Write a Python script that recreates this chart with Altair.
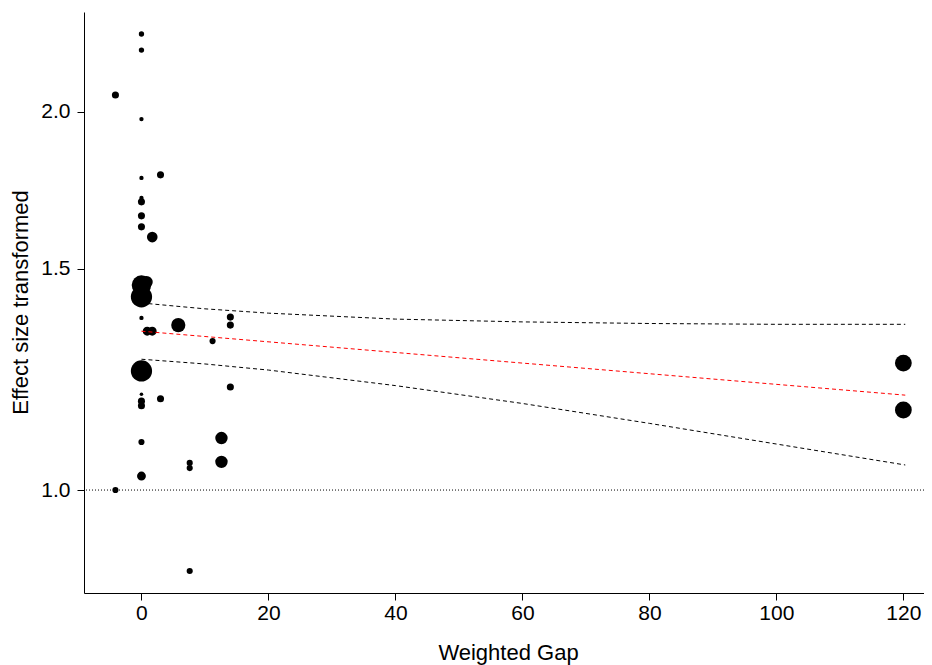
import altair as alt
import pandas as pd

# study points: weighted gap (x), transformed effect size (y), study weight
gap = [0, 0, -4.1, 0, 0, 3.0, 0, 0, 0, 0, 1.7, 0, 0.8, 0, 0, 0.9, 1.7, 5.8,
       11.2, 14.0, 14.0, 0, 14.0, 0, 0, 0, 3.0, 0, 12.6, 12.6, 7.6, 7.6, 0,
       -4.1, 7.6, 120.0, 120.0]
effect = [2.307, 2.240, 2.063, 1.974, 1.772, 1.782, 1.708, 1.696, 1.653, 1.620,
          1.590, 1.456, 1.464, 1.425, 1.371, 1.338, 1.338, 1.353, 1.314, 1.373,
          1.353, 1.244, 1.208, 1.192, 1.177, 1.167, 1.182, 1.092, 1.100, 1.053,
          1.051, 1.041, 1.026, 1.000, 0.862, 1.262, 1.158]
weight = [0.9, 0.9, 1.6, 0.6, 0.6, 1.6, 0.6, 1.6, 1.6, 1.6, 3.6, 12.1, 4.9, 14.4,
          0.6, 2.5, 2.5, 6.4, 1.2, 1.6, 1.6, 14.4, 1.6, 0.4, 1.6, 1.6, 1.6, 1.2,
          4.9, 4.9, 1.2, 1.2, 2.5, 1.2, 1.2, 9.0, 9.0]

# regression line and confidence bounds
ci_x = [0, 10, 20, 40, 60, 80, 100, 120.3]
ci_upper = [1.409, 1.394, 1.383, 1.368, 1.361, 1.357, 1.355, 1.355]
ci_lower = [1.271, 1.260, 1.246, 1.211, 1.172, 1.130, 1.088, 1.047]
fit_x = [0, 120.3]
fit_y = [1.338, 1.190]

ref_value = [1.0]
x_ticks = [0, 20, 40, 60, 80, 100, 120]
y_ticks = [1.0, 1.5, 2.0]

pts = pd.DataFrame({"gap": gap, "effect": effect, "weight": weight})
ci = pd.DataFrame({"gap": ci_x, "upper": ci_upper, "lower": ci_lower})
fit = pd.DataFrame({"gap": fit_x, "pred": fit_y})
ref = pd.DataFrame({"ref": ref_value})

xscale = alt.Scale(domain=[-9.05, 123.25], nice=False, zero=False)
yscale = alt.Scale(type="log", domain=[0.828, 2.402], nice=False, zero=False)

xaxis = alt.Axis(values=x_ticks, title="Weighted Gap", labelPadding=19,
                 labelBaseline="alphabetic", titleX=424, titleY=66,
                 titleBaseline="alphabetic")
yaxis = alt.Axis(values=y_ticks, format=".1f", title="Effect size transformed",
                 labelPadding=7, titleX=-57, titleY=290,
                 titleBaseline="alphabetic", titleAlign="center", titleAngle=270)

points = alt.Chart(pts).mark_circle(color="black", opacity=1).encode(
    x=alt.X("gap:Q", scale=xscale, axis=xaxis),
    y=alt.Y("effect:Q", scale=yscale, axis=yaxis),
    size=alt.Size("weight:Q", scale=alt.Scale(domain=[0, 14.4], range=[0, 452]),
                  legend=None),
)

refline = alt.Chart(ref).mark_rule(color="black", strokeWidth=1,
                                   strokeDash=[1, 2]).encode(
    y=alt.Y("ref:Q", scale=yscale)
)

upper = alt.Chart(ci).mark_line(color="black", strokeWidth=1,
                                strokeDash=[4, 3]).encode(
    x=alt.X("gap:Q", scale=xscale), y=alt.Y("upper:Q", scale=yscale))
lower = alt.Chart(ci).mark_line(color="black", strokeWidth=1,
                                strokeDash=[4, 3]).encode(
    x=alt.X("gap:Q", scale=xscale), y=alt.Y("lower:Q", scale=yscale))
fitline = alt.Chart(fit).mark_line(color="red", strokeWidth=1,
                                   strokeDash=[4, 3]).encode(
    x=alt.X("gap:Q", scale=xscale), y=alt.Y("pred:Q", scale=yscale))

chart = alt.layer(refline, points, upper, lower, fitline).properties(
    width=840, height=581,
    autosize=alt.AutoSizeParams(type="none"),
    padding={"left": 76, "top": 4, "right": 0, "bottom": 72},
).configure_view(stroke=None).configure_axis(
    grid=False, domainColor="black", tickColor="black", tickSize=7,
    labelFont="Liberation Sans", labelFontSize=21, labelColor="black",
    titleFont="Liberation Sans", titleFontSize=22, titleFontWeight="normal",
    titleColor="black",
)

chart.save("out.html", embed_options={"renderer": "svg", "actions": False})
